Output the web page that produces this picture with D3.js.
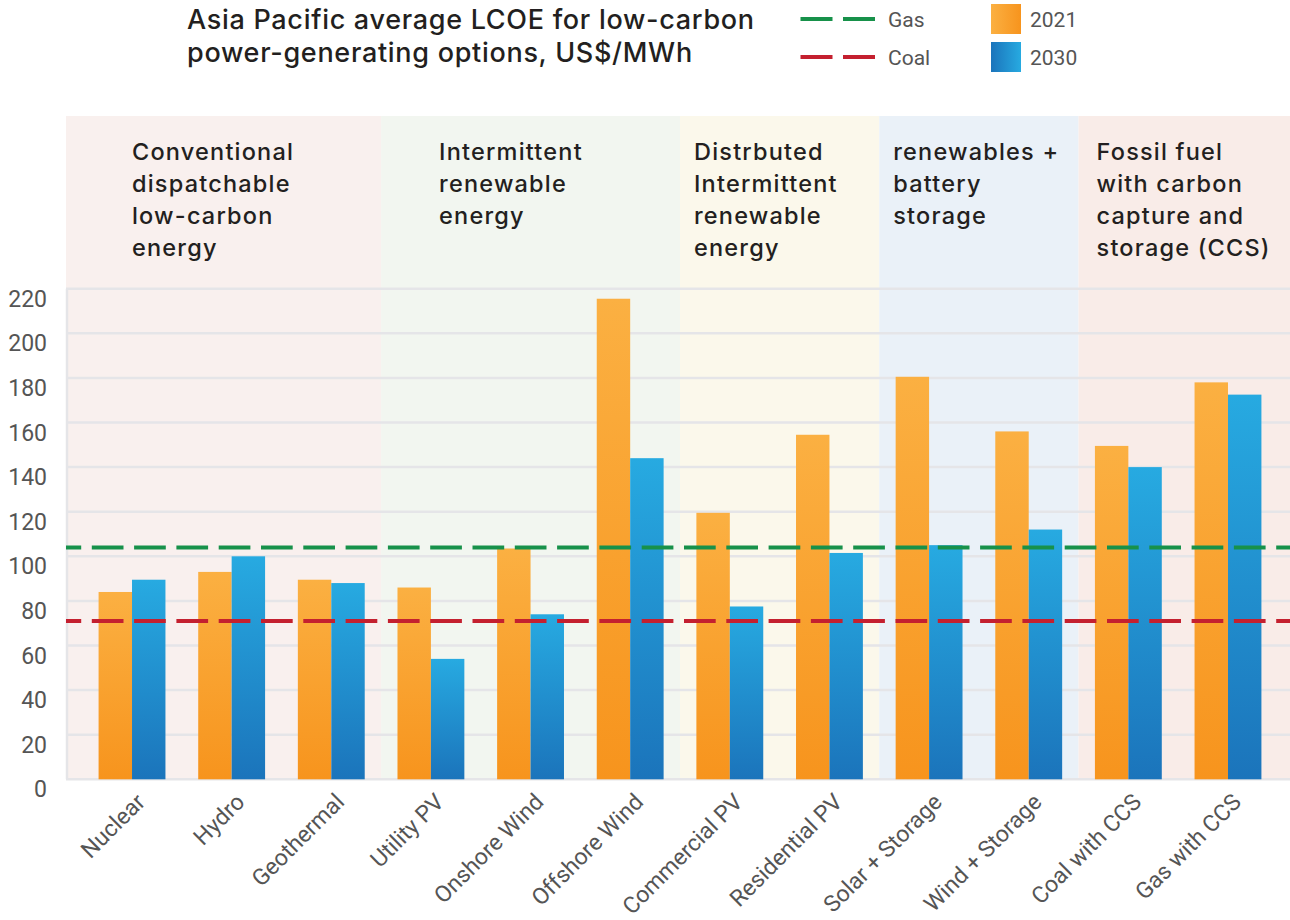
<!DOCTYPE html>
<html>
<head>
<meta charset="utf-8">
<script src="https://cdn.jsdelivr.net/npm/d3@7"></script>
<style>
  html, body { margin: 0; padding: 0; background: #ffffff; }
  svg { display: block; }
</style>
</head>
<body>
<svg id="chart" width="1290" height="920"></svg>
<script>
// ---- Data ----
const categories = [
  "Nuclear", "Hydro", "Geothermal", "Utility PV", "Onshore Wind", "Offshore Wind",
  "Commercial PV", "Residential PV", "Solar + Storage", "Wind + Storage",
  "Coal with CCS", "Gas with CCS"
];
const series = ["2021", "2030"];
const values2021 = [84, 93, 89.5, 86, 103.5, 215.5, 119.5, 154.5, 180.5, 156, 149.5, 178];
const values2030 = [89.5, 100, 88, 54, 74, 144, 77.5, 101.5, 105, 112, 140, 172.5];
const gasLevel = 104;
const coalLevel = 71;
const yTicks = [0, 20, 40, 60, 80, 100, 120, 140, 160, 180, 200, 220];

const groupLabels = [
  ["Conventional", "dispatchable", "low-carbon", "energy"],
  ["Intermittent", "renewable", "energy"],
  ["Distrbuted", "Intermittent", "renewable", "energy"],
  ["renewables +", "battery", "storage"],
  ["Fossil fuel", "with carbon", "capture and", "storage (CCS)"]
];
const groupSizes = [3, 3, 2, 2, 2];

const titleLines = [
  "Asia Pacific average LCOE for low-carbon",
  "power-generating options, US$/MWh"
];

// ---- Styling / layout ----
const groupFills = ["#f9f0ee", "#f2f6f0", "#fbf8eb", "#eaf1f8", "#f9ece8"];
const headerInset = [66, 58, 14, 14, 18];
const gasColor = "#17914a";
const coalColor = "#c4202f";
const gridColor = "#e5e5e8";
const tickColor = "#555555";
const headFont = "Inter, 'Open Sans', sans-serif";
const bodyFont = "Roboto, 'Open Sans', sans-serif";

const plotLeft = 66, plotRight = 1290, plotTop = 116;

const svg = d3.select("#chart");

// gradients
const defs = svg.append("defs");
function grad(id, x2, y2, c1, c2) {
  const g = defs.append("linearGradient").attr("id", id)
    .attr("x1", 0).attr("y1", 0).attr("x2", x2).attr("y2", y2);
  g.append("stop").attr("offset", "0%").attr("stop-color", c1);
  g.append("stop").attr("offset", "100%").attr("stop-color", c2);
}
grad("g2021", 0, 1, "#fbb042", "#f7941d");
grad("g2030", 0, 1, "#27aae1", "#1b74bb");
grad("l2021", 1, 0, "#fbb042", "#f7941d");
grad("l2030", 1, 0, "#1b74bb", "#27aae1");

// ---- Scales ----
const y = d3.scaleLinear().domain([0, 220]).range([779.3, 288.7]);
const x = d3.scaleBand().domain(categories).range([82.2, 1277.8]).padding(0);
const xs = d3.scaleBand().domain(series).range([0, x.bandwidth()])
  .paddingInner(0).paddingOuter(0.49);

// ---- Group backgrounds & headers ----
let idx = 0;
groupSizes.forEach((n, gi) => {
  const first = categories[idx], last = categories[idx + n - 1];
  let x0 = x(first), x1 = x(last) + x.bandwidth();
  if (gi === 0) x0 = plotLeft;
  if (gi === groupSizes.length - 1) x1 = plotRight;
  svg.append("rect")
    .attr("x", x0).attr("y", plotTop)
    .attr("width", x1 - x0).attr("height", y(0) - plotTop)
    .attr("fill", groupFills[gi]);
  const t = svg.append("text")
    .attr("x", x0 + headerInset[gi]).attr("y", 160)
    .attr("font-family", headFont).attr("font-weight", 500)
    .attr("font-size", 23.5).attr("letter-spacing", 1.2)
    .attr("fill", "#231f20");
  groupLabels[gi].forEach((line, li) => {
    t.append("tspan").attr("x", x0 + headerInset[gi]).attr("y", 160 + li * 32).text(line);
  });
  idx += n;
});

// ---- Gridlines ----
svg.append("g").selectAll("line").data(yTicks).join("line")
  .attr("x1", plotLeft).attr("x2", plotRight)
  .attr("y1", d => y(d)).attr("y2", d => y(d))
  .attr("stroke", gridColor).attr("stroke-width", 2.5);
svg.append("line")
  .attr("x1", plotLeft + 1).attr("x2", plotLeft + 1)
  .attr("y1", y(220)).attr("y2", y(0))
  .attr("stroke", gridColor).attr("stroke-width", 2.5);

// ---- Y tick labels ----
svg.append("g").selectAll("text").data(yTicks).join("text")
  .attr("x", 47).attr("y", d => y(d) + 18)
  .attr("text-anchor", "end")
  .attr("font-family", bodyFont).attr("font-size", 23)
  .attr("fill", tickColor)
  .text(d => d);

// ---- Bars ----
const rows = categories.map((c, i) => ({ c, v: [values2021[i], values2030[i]] }));
const cat = svg.append("g").selectAll("g").data(rows).join("g")
  .attr("transform", d => `translate(${x(d.c)},0)`);
cat.selectAll("rect").data(d => series.map((s, k) => ({ s, v: d.v[k] }))).join("rect")
  .attr("x", d => xs(d.s))
  .attr("width", xs.bandwidth())
  .attr("y", d => y(d.v))
  .attr("height", d => y(0) - y(d.v))
  .attr("fill", d => `url(#g${d.s})`);

// ---- Reference lines ----
function refLine(val, color) {
  svg.append("line")
    .attr("x1", plotLeft).attr("x2", plotRight)
    .attr("y1", y(val)).attr("y2", y(val))
    .attr("stroke", color).attr("stroke-width", 4)
    .attr("stroke-dasharray", "31.7,10.6")
    .attr("stroke-dashoffset", 16.5);
}
refLine(gasLevel, gasColor);
refLine(coalLevel, coalColor);

// ---- X labels ----
svg.append("g").selectAll("text").data(categories).join("text")
  .attr("transform", d => `translate(${x(d) + x.bandwidth() / 2 + 3},${792}) rotate(-45)`)
  .attr("text-anchor", "end")
  .attr("dy", "0.7em")
  .attr("font-family", bodyFont).attr("font-size", 23)
  .attr("fill", tickColor)
  .text(d => d);

// ---- Title ----
const title = svg.append("text")
  .attr("font-family", headFont).attr("font-weight", 500)
  .attr("font-size", 27).attr("letter-spacing", 0.7)
  .attr("fill", "#231f20");
titleLines.forEach((line, i) => {
  title.append("tspan").attr("x", 187).attr("y", 29 + i * 33).text(line);
});

// ---- Legend ----
const lg = svg.append("g");
[["Gas", gasColor, 19], ["Coal", coalColor, 57]].forEach(([name, color, ly]) => {
  lg.append("line").attr("x1", 800.5).attr("x2", 876).attr("y1", ly).attr("y2", ly)
    .attr("stroke", color).attr("stroke-width", 4).attr("stroke-dasharray", "32,10.5");
  lg.append("text").attr("x", 888).attr("y", ly + 7.5)
    .attr("font-family", bodyFont).attr("font-size", 21).attr("fill", tickColor)
    .text(name);
});
series.forEach((s, i) => {
  lg.append("rect").attr("x", 991).attr("y", 4 + i * 38).attr("width", 30).attr("height", 30)
    .attr("fill", `url(#l${s})`);
  lg.append("text").attr("x", 1030).attr("y", 26.5 + i * 38)
    .attr("font-family", bodyFont).attr("font-size", 21).attr("fill", tickColor)
    .text(s);
});
</script>
</body>
</html>
